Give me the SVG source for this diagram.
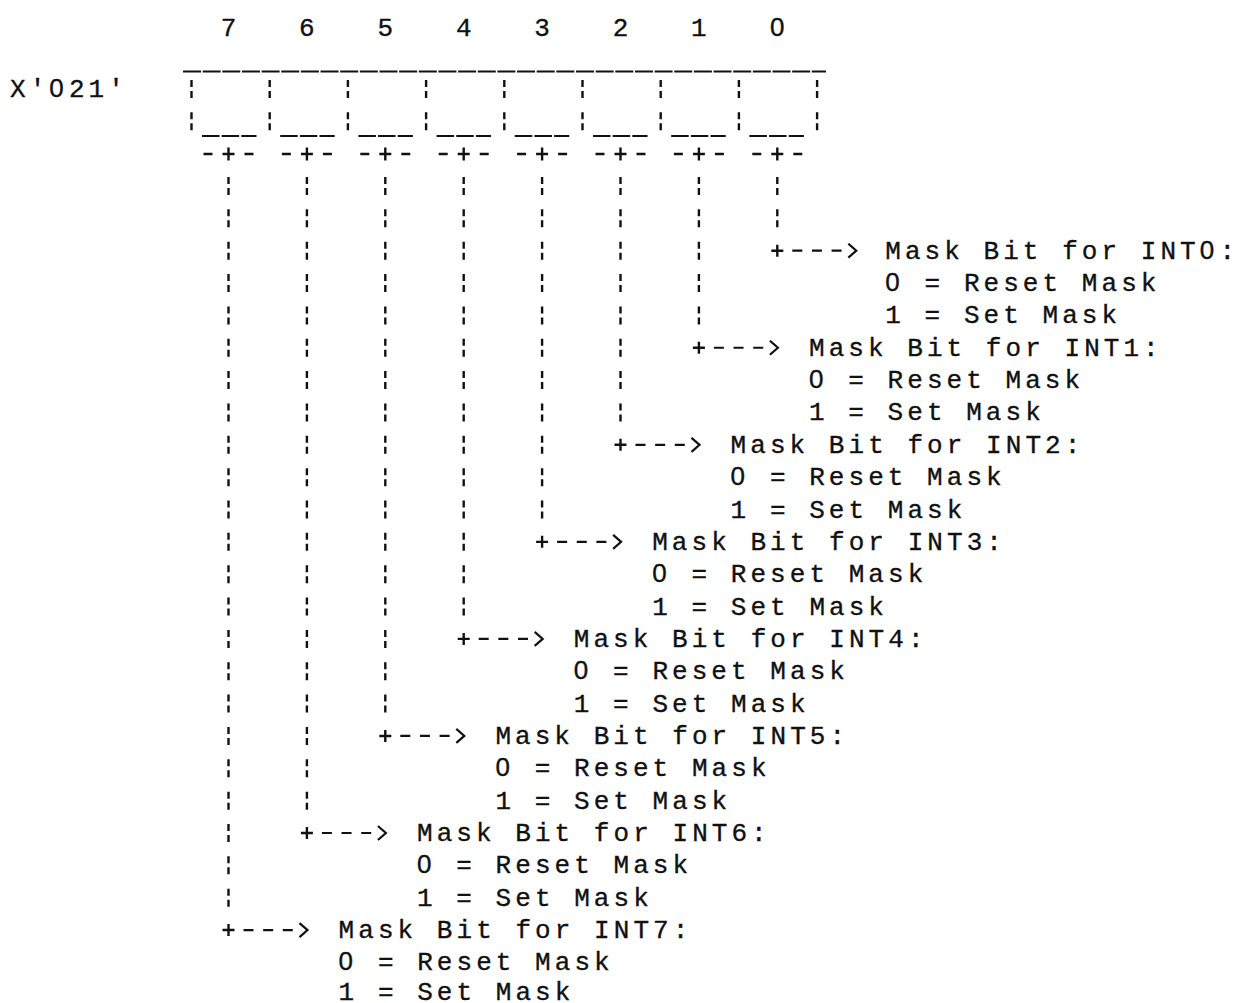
<svg xmlns="http://www.w3.org/2000/svg" width="1235" height="1003" viewBox="0 0 1235 1003">
<style>
text { font-family: "Liberation Mono", "DejaVu Sans Mono", monospace; font-size: 26px; fill: #111; stroke: #111; stroke-width: 0.35; letter-spacing: 4.05px; }
.z { font-family: "Liberation Sans", "DejaVu Sans", sans-serif; letter-spacing: 5.19px; }
.e { letter-spacing: 0; }
.digit { letter-spacing: 0; text-anchor: middle; }
.vbar { stroke: #111; stroke-width: 2.4; stroke-dasharray: 7 4 7 14.35; fill: none; }
.top { stroke: #111; stroke-width: 2; stroke-dasharray: 18 1.65; fill: none; }
.ul { stroke: #111; stroke-width: 2; stroke-dasharray: 17.5 2.15; fill: none; }
.tick { stroke: #111; stroke-width: 2.4; fill: none; }
.arrow { stroke: #111; stroke-width: 2.2; stroke-dasharray: 10 9.65 10 9.65 10 40; fill: none; marker-end: url(#chev); }
</style>
<defs>
<marker id="chev" markerUnits="userSpaceOnUse" viewBox="0 0 12 16" markerWidth="12" markerHeight="16" refX="10" refY="8" orient="auto">
<path d="M2,1 L10,8 L2,15" fill="none" stroke="#111" stroke-width="2.2"/>
</marker>
</defs>
<rect width="1235" height="1003" fill="#fff"/>

<g id="bit-numbers">
<text class="digit" x="228.5" y="36">7</text>
<text class="digit" x="306.9" y="36">6</text>
<text class="digit" x="385.3" y="36">5</text>
<text class="digit" x="463.7" y="36">4</text>
<text class="digit" x="542.1" y="36">3</text>
<text class="digit" x="620.5" y="36">2</text>
<text class="digit" x="698.9" y="36">1</text>
<text class="digit" x="777.3" y="36" style="font-family:'Liberation Sans','DejaVu Sans',sans-serif">0</text>
</g>

<g id="register">
<text x="10" y="97">X'<tspan class="z">0</tspan>21'</text>
<path class="top" d="M183,71.5 H826"/>
<path class="vbar" d="M191.5,80 V131 M269.7,80 V131 M347.9,80 V131 M426.1,80 V131 M504.3,80 V131 M582.5,80 V131 M660.7,80 V131 M738.9,80 V131 M817.1,80 V131"/>
<path class="ul" d="M202,136 H256.5 M280.2,136 H334.7 M358.4,136 H412.9 M436.6,136 H491.1 M514.8,136 H569.3 M593,136 H647.5 M671.2,136 H725.7 M749.4,136 H803.9"/>
</g>

<g id="connectors">
<g id="conn-7">
<path class="tick" d="M203.5,154 h9 M244.5,154 h9 M222.5,154 h12 M228.5,147.5 v13"/>
<path class="vbar" d="M228.5,177 V906.7"/>
<path class="tick" d="M222.5,930.05 h12 M228.5,924.05 v12"/>
<path class="arrow" d="M243.5,930.05 H307.5"/>
</g>
<g id="conn-6">
<path class="tick" d="M281.9,154 h9 M322.9,154 h9 M300.9,154 h12 M306.9,147.5 v13"/>
<path class="vbar" d="M306.9,177 V809.65"/>
<path class="tick" d="M300.9,833 h12 M306.9,827 v12"/>
<path class="arrow" d="M321.9,833 H385.9"/>
</g>
<g id="conn-5">
<path class="tick" d="M360.3,154 h9 M401.3,154 h9 M379.3,154 h12 M385.3,147.5 v13"/>
<path class="vbar" d="M385.3,177 V712.6"/>
<path class="tick" d="M379.3,735.95 h12 M385.3,729.95 v12"/>
<path class="arrow" d="M400.3,735.95 H464.3"/>
</g>
<g id="conn-4">
<path class="tick" d="M438.7,154 h9 M479.7,154 h9 M457.7,154 h12 M463.7,147.5 v13"/>
<path class="vbar" d="M463.7,177 V615.55"/>
<path class="tick" d="M457.7,638.9 h12 M463.7,632.9 v12"/>
<path class="arrow" d="M478.7,638.9 H542.7"/>
</g>
<g id="conn-3">
<path class="tick" d="M517.1,154 h9 M558.1,154 h9 M536.1,154 h12 M542.1,147.5 v13"/>
<path class="vbar" d="M542.1,177 V518.5"/>
<path class="tick" d="M536.1,541.85 h12 M542.1,535.85 v12"/>
<path class="arrow" d="M557.1,541.85 H621.1"/>
</g>
<g id="conn-2">
<path class="tick" d="M595.5,154 h9 M636.5,154 h9 M614.5,154 h12 M620.5,147.5 v13"/>
<path class="vbar" d="M620.5,177 V421.45"/>
<path class="tick" d="M614.5,444.8 h12 M620.5,438.8 v12"/>
<path class="arrow" d="M635.5,444.8 H699.5"/>
</g>
<g id="conn-1">
<path class="tick" d="M673.9,154 h9 M714.9,154 h9 M692.9,154 h12 M698.9,147.5 v13"/>
<path class="vbar" d="M698.9,177 V324.4"/>
<path class="tick" d="M692.9,347.75 h12 M698.9,341.75 v12"/>
<path class="arrow" d="M713.9,347.75 H777.9"/>
</g>
<g id="conn-0">
<path class="tick" d="M752.3,154 h9 M793.3,154 h9 M771.3,154 h12 M777.3,147.5 v13"/>
<path class="vbar" d="M777.3,177 V227.35"/>
<path class="tick" d="M771.3,250.7 h12 M777.3,244.7 v12"/>
<path class="arrow" d="M792.3,250.7 H856.3"/>
</g>
</g>

<g id="desc-int0">
<text x="885.3" y="258.7">Mask Bit for INT<tspan class="z">0</tspan><tspan class="e">:</tspan></text>
<text x="885.3" y="291.05"><tspan class="z">0</tspan> = Reset Mask</text>
<text x="885.3" y="323.4">1 = Set Mask</text>
</g>
<g id="desc-int1">
<text x="809" y="355.75">Mask Bit for INT1<tspan class="e">:</tspan></text>
<text x="809" y="388.1"><tspan class="z">0</tspan> = Reset Mask</text>
<text x="809" y="420.45">1 = Set Mask</text>
</g>
<g id="desc-int2">
<text x="730.6" y="452.8">Mask Bit for INT2<tspan class="e">:</tspan></text>
<text x="730.6" y="485.15"><tspan class="z">0</tspan> = Reset Mask</text>
<text x="730.6" y="517.5">1 = Set Mask</text>
</g>
<g id="desc-int3">
<text x="652.2" y="549.85">Mask Bit for INT3<tspan class="e">:</tspan></text>
<text x="652.2" y="582.2"><tspan class="z">0</tspan> = Reset Mask</text>
<text x="652.2" y="614.55">1 = Set Mask</text>
</g>
<g id="desc-int4">
<text x="573.8" y="646.9">Mask Bit for INT4<tspan class="e">:</tspan></text>
<text x="573.8" y="679.25"><tspan class="z">0</tspan> = Reset Mask</text>
<text x="573.8" y="711.6">1 = Set Mask</text>
</g>
<g id="desc-int5">
<text x="495.4" y="743.95">Mask Bit for INT5<tspan class="e">:</tspan></text>
<text x="495.4" y="776.3"><tspan class="z">0</tspan> = Reset Mask</text>
<text x="495.4" y="808.65">1 = Set Mask</text>
</g>
<g id="desc-int6">
<text x="417" y="841">Mask Bit for INT6<tspan class="e">:</tspan></text>
<text x="417" y="873.35"><tspan class="z">0</tspan> = Reset Mask</text>
<text x="417" y="905.7">1 = Set Mask</text>
</g>
<g id="desc-int7">
<text x="338.6" y="938.05">Mask Bit for INT7<tspan class="e">:</tspan></text>
<text x="338.6" y="970.4"><tspan class="z">0</tspan> = Reset Mask</text>
<text x="338.6" y="1000">1 = Set Mask</text>
</g>
</svg>
